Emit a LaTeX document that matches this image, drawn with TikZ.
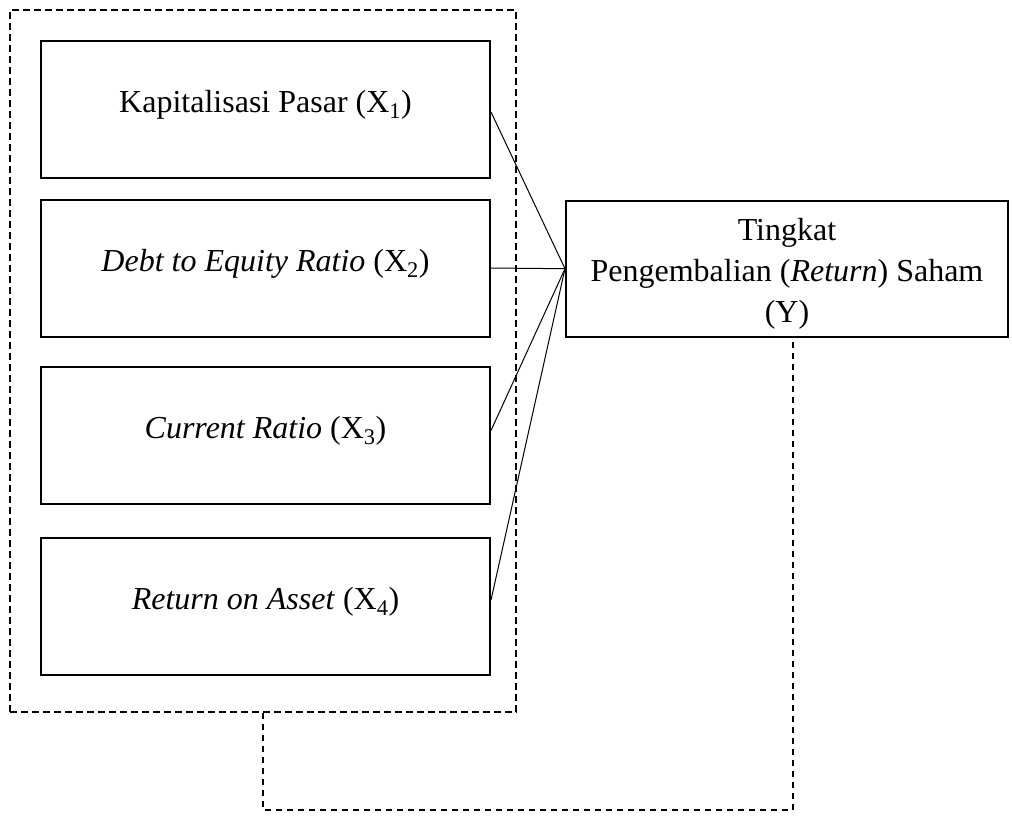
\documentclass[tikz,border=0pt]{standalone}
\usepackage{fontspec}
\setmainfont{Liberation Serif}
\begin{document}
\begin{tikzpicture}[x=1pt,y=-1pt,
  varbox/.style={draw, line width=2pt, minimum width=449pt, minimum height=137pt, inner sep=0pt,
    font=\fontsize{32}{41}\selectfont, text height=24pt, text depth=18pt},
  ybox/.style={draw, line width=2pt, minimum width=442pt, minimum height=136pt, inner sep=0pt,
    font=\fontsize{32}{41}\selectfont, align=center},
  grpbox/.style={draw, line width=2.2pt, dash pattern=on 7pt off 4pt, minimum width=506pt, minimum height=702pt, inner sep=0pt},
  link/.style={line width=1pt},
  dlink/.style={line width=1.5pt, dash pattern=on 6pt off 5pt}]
\useasboundingbox (0,0) rectangle (1012,815);
\node[grpbox] (grp) at (263,361) {};
\node[varbox] (x1) at (265.5,109) {Kapitalisasi Pasar (X\textsubscript{1})};
\node[varbox] (x2) at (265.5,268) {\textit{Debt to Equity Ratio} (X\textsubscript{2})};
\node[varbox] (x3) at (265.5,435.5) {\textit{Current Ratio} (X\textsubscript{3})};
\node[varbox] (x4) at (265.5,606) {\textit{Return on Asset} (X\textsubscript{4})};
\node[ybox] (y) at (787,268.7) {\rule{0pt}{32pt}Tingkat\\Pengembalian (\textit{Return}) Saham\\(Y)};
\draw[link] ([yshift=-3pt]x1.east) -- (y.west);
\draw[link] (x2.east) -- (y.west);
\draw[link] ([yshift=5pt]x3.east) -- (y.west);
\draw[link] ([yshift=6pt]x4.east) -- (y.west);
\coordinate (c1) at (grp.south |- 0,810);
\draw[dlink] (grp.south) -- (c1) -| ([xshift=6pt]y.south);
\end{tikzpicture}
\end{document}
